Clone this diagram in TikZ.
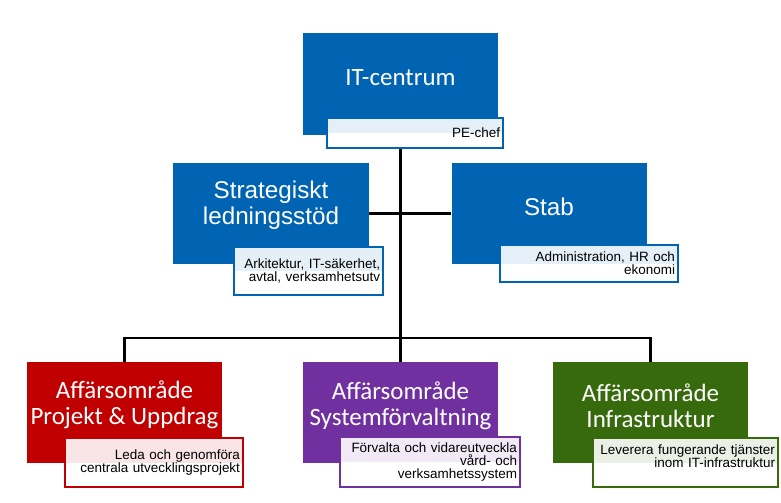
\documentclass[tikz,border=0pt]{standalone}
\usepackage{fontspec}
\setmainfont{Liberation Sans}
\newfontfamily\calibri{Carlito}
\usetikzlibrary{positioning,backgrounds}
\definecolor{ocBlue}  {RGB}{  0,100,178}
\definecolor{ocRed}   {RGB}{192,  0,  0}
\definecolor{ocPurple}{RGB}{112, 48,160}
\definecolor{ocGreen} {RGB}{ 55,106, 12}

\begin{document}
\begin{tikzpicture}[x=0.03cm,y=-0.03cm,
  unit/.style={fill=#1,inner sep=0pt,minimum width=5.85cm,minimum height=3.03cm},
  ttl/.style={text=white,align=center,inner sep=0pt,
              font=\fontsize{20.7pt}{22.2pt}\selectfont},
  ttlc/.style={ttl,font=\calibri\fontsize{21.3pt}{22.2pt}\selectfont},
  sub/.style={draw=#1,fill=white,line width=1.7pt,inner sep=0.09cm,
              align=right,font=\fontsize{11.5pt}{11pt}\selectfont,
              path picture={\fill[#1!10]
                (path picture bounding box.north west) rectangle
                (path picture bounding box.east);}},
  link/.style={line width=2.1pt}
]
\useasboundingbox (0,0) rectangle (781,502);

% top
\node[unit=ocBlue] (itc) at (400.5,84) {};
\node[ttlc] (itcT) at (400.5,78) {IT-centrum};
\node[sub=ocBlue,text width=5.1cm,minimum height=0.9cm] (itcS) at (415,133) {PE-chef};

% middle row
\node[unit=ocBlue] (strat) at (271,213.5) {};
\node[ttl] (stratT) at (271,205) {Strategiskt\\ledningsstöd};
\node[sub=ocBlue,text width=4.29cm,minimum height=1.44cm] (stratS) at (308.5,271)
  {Arkitektur, IT-säkerhet,\\avtal, verksamhetsutv};

\node[unit=ocBlue] (stab) at (549,213.5) {};
\node[ttl] (stabT) at (549,207) {Stab};
\node[sub=ocBlue,text width=5.16cm,minimum height=1.11cm] (stabS) at (589,263.5)
  {Administration, HR och\\ekonomi};

% business areas
\node[unit=ocRed] (proj) at (124.5,412.5) {};
\node[ttlc] (projT) at (124.5,405) {Affärsområde\\Projekt \& Uppdrag};
\node[sub=ocRed,text width=5.16cm,minimum height=1.47cm] (projS) at (154,462.5)
  {Leda och genomföra\\centrala utvecklingsprojekt};

\node[unit=ocPurple] (sysf) at (400.5,412.5) {};
\node[ttlc] (sysfT) at (400.5,406) {Affärsområde\\Systemförvaltning};
\node[sub=ocPurple,text width=5.22cm,minimum height=1.5cm] (sysfS) at (430,462)
  {Förvalta och vidareutveckla\\vård- och\\verksamhetssystem};

\node[unit=ocGreen] (infra) at (650.5,412.5) {};
\node[ttlc] (infraT) at (650.5,406) {Affärsområde\\Infrastruktur};
\node[sub=ocGreen,text width=5.37cm,minimum height=1.47cm] (infraS) at (685.5,462.5)
  {Leverera fungerande tjänster\\inom IT-infrastruktur\\\mbox{}};

% lines
\begin{scope}[on background layer]
  \draw[link] (itc) -- (sysf);
  \draw[link] (strat) -- (stab);
  \coordinate (bus) at (400.5,338);
  \draw[link] (proj) |- (bus) -| (infra);
\end{scope}
\end{tikzpicture}
\end{document}
